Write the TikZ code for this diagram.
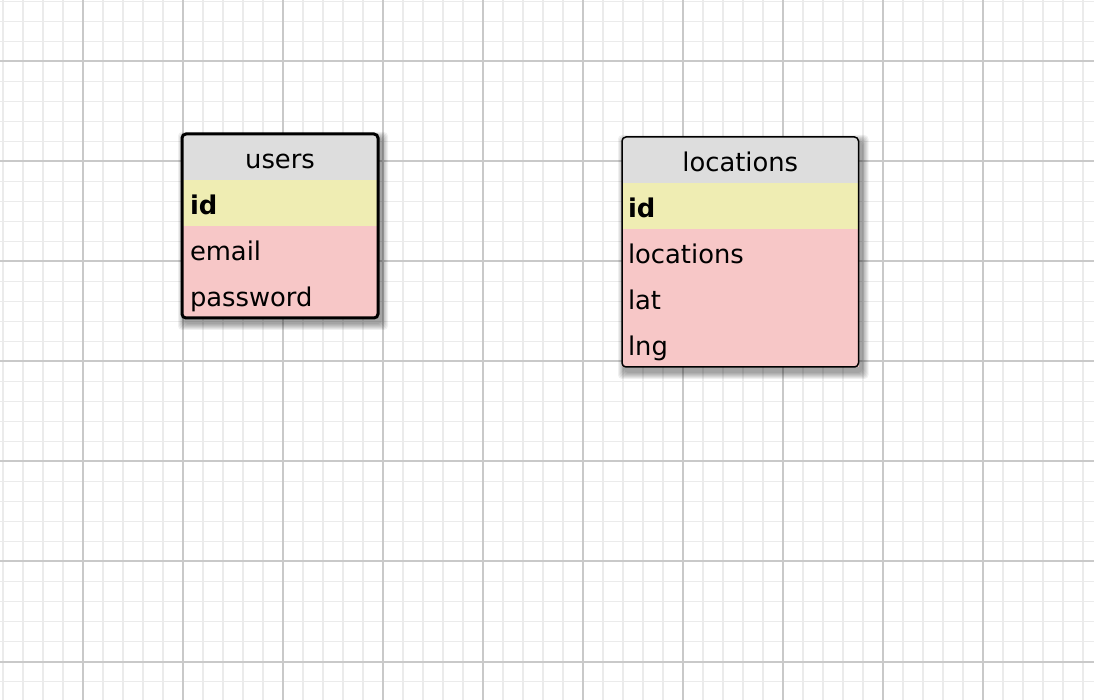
\documentclass[tikz,border=0pt]{standalone}
\usepackage{fontspec}
\setmainfont{DejaVu Sans}
\usetikzlibrary{positioning}

\definecolor{minorgrid}{HTML}{EBEBEB}
\definecolor{majorgrid}{HTML}{C9C9C9}
\definecolor{headgray}{HTML}{DDDDDD}
\definecolor{keyyellow}{HTML}{EFEDB3}
\definecolor{fieldpink}{HTML}{F7C7C7}

\pgfdeclarelayer{gridlayer}
\pgfdeclarelayer{shadowlayer}
\pgfsetlayers{gridlayer,shadowlayer,main}

\tikzset{
  tablefont/.style={font=\fontsize{12.9}{15}\selectfont},
  tablehead/.style={tablefont, fill=headgray, minimum height=23pt, inner sep=0pt,
    outer sep=0pt, text height=11.5pt, text depth=0pt},
  tablerow/.style={tablefont, minimum height=23pt, inner ysep=0pt, outer sep=0pt,
    align=left, text height=11.2pt, text depth=0pt},
  keyrow/.style={tablerow, fill=keyyellow, font=\fontsize{12.9}{15}\selectfont\bfseries},
  fieldrow/.style={tablerow, fill=fieldpink},
  userscol/.style={text width=90pt, inner xsep=4pt},
  locscol/.style={text width=112.25pt, inner xsep=3pt},
  tableframe/.style={draw=black, rounded corners=2pt},
}

% soft shadow under a table, from its head to its last row
\newcommand{\tableshadow}[2]{%
  \begin{pgfonlayer}{shadowlayer}
    \foreach \s in {0.5,1,...,3.5}
      \fill[black, opacity=0.06, rounded corners=2pt]
        ([shift={({(1.5-\s)*1pt},{(-2.5+\s)*1pt})}]#1.north west)
        rectangle ([shift={({(1.5+\s)*1pt},{(-2.5-\s)*1pt})}]#2.south east);
  \end{pgfonlayer}}

\begin{document}
\begin{tikzpicture}[x=0.5pt, y=-0.5pt]
\useasboundingbox (0,0) rectangle (1094,700);

% grid paper
\begin{pgfonlayer}{gridlayer}
\fill[white] (0,0) rectangle (1094,700);
\foreach \gx in {3,23,...,1093} \draw[minorgrid, line width=0.9pt] (\gx,0) -- (\gx,700);
\foreach \gy in {1.5,21.5,...,691.5} \draw[minorgrid, line width=0.9pt] (0,\gy) -- (1094,\gy);
\foreach \gx in {83,183,...,983} \draw[majorgrid, line width=1pt] (\gx,0) -- (\gx,700);
\foreach \gy in {61.5,161.5,...,661.5} \draw[majorgrid, line width=1pt] (0,\gy) -- (1094,\gy);
\end{pgfonlayer}

% users
\node[tablehead, minimum width=98pt] (users-head) at (280,157) {users};
\node[keyrow, userscol, below=0pt of users-head] (users-id) {id};
\node[fieldrow, userscol, below=0pt of users-id] (users-email) {email};
\node[fieldrow, userscol, below=0pt of users-email] (users-password) {password};
\tableshadow{users-head}{users-password}
\draw[tableframe, line width=1.5pt] (users-head.north west) rectangle (users-password.south east);

% locations
\node[tablehead, minimum width=118.25pt] (locs-head) at (740.25,160) {locations};
\node[keyrow, locscol, below=0pt of locs-head] (locs-id) {id};
\node[fieldrow, locscol, below=0pt of locs-id] (locs-locations) {locations};
\node[fieldrow, locscol, below=0pt of locs-locations] (locs-lat) {lat};
\node[fieldrow, locscol, below=0pt of locs-lat] (locs-lng) {lng};
\tableshadow{locs-head}{locs-lng}
\draw[tableframe, line width=0.75pt] (locs-head.north west) rectangle (locs-lng.south east);
\end{tikzpicture}
\end{document}
